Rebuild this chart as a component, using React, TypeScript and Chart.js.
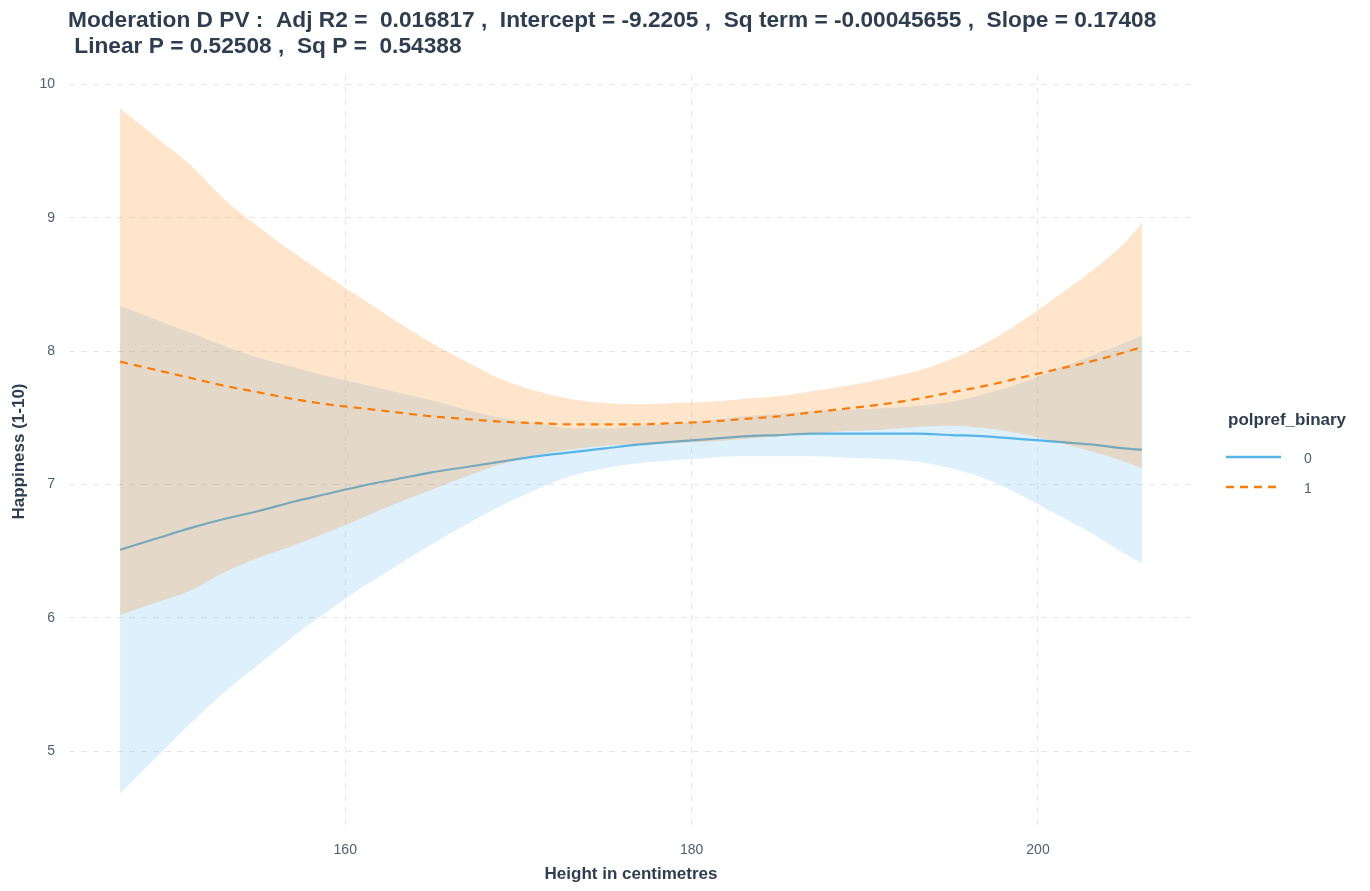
import React, { useEffect, useRef } from 'react';
import { Chart, registerables } from 'chart.js';

Chart.register(...registerables);

// ---- Data ----
const heights = [147, 149, 151, 153, 155, 157, 159, 161, 163, 165, 167, 169, 171, 173, 175, 177, 179, 181, 183, 185, 187, 189, 191, 193, 195, 197, 199, 201, 203, 205, 206];

// group 0 (solid blue)
const fit0 = [6.51, 6.59, 6.67, 6.74, 6.80, 6.87, 6.93, 6.99, 7.04, 7.09, 7.13, 7.17, 7.21, 7.24, 7.27, 7.30, 7.32, 7.34, 7.36, 7.37, 7.38, 7.38, 7.38, 7.38, 7.37, 7.36, 7.34, 7.32, 7.30, 7.27, 7.26];
const low0 = [4.68, 4.94, 5.20, 5.44, 5.65, 5.86, 6.05, 6.23, 6.39, 6.55, 6.70, 6.84, 6.96, 7.06, 7.12, 7.16, 7.18, 7.20, 7.21, 7.21, 7.21, 7.20, 7.19, 7.17, 7.12, 7.04, 6.92, 6.78, 6.64, 6.48, 6.41];
const high0 = [8.34, 8.24, 8.14, 8.04, 7.95, 7.88, 7.81, 7.75, 7.69, 7.63, 7.56, 7.50, 7.46, 7.42, 7.42, 7.44, 7.46, 7.48, 7.51, 7.53, 7.55, 7.56, 7.57, 7.59, 7.62, 7.68, 7.76, 7.86, 7.96, 8.06, 8.12];

// group 1 (dashed orange)
const fit1 = [7.92, 7.86, 7.80, 7.74, 7.69, 7.64, 7.60, 7.57, 7.54, 7.51, 7.49, 7.47, 7.46, 7.45, 7.45, 7.45, 7.46, 7.47, 7.49, 7.51, 7.54, 7.57, 7.60, 7.64, 7.69, 7.74, 7.80, 7.86, 7.92, 7.99, 8.03];
const low1 = [6.02, 6.11, 6.20, 6.34, 6.45, 6.54, 6.64, 6.75, 6.86, 6.96, 7.06, 7.15, 7.22, 7.26, 7.29, 7.30, 7.31, 7.32, 7.34, 7.36, 7.38, 7.40, 7.41, 7.43, 7.44, 7.42, 7.38, 7.32, 7.25, 7.17, 7.12];
const high1 = [9.82, 9.61, 9.40, 9.14, 8.93, 8.74, 8.56, 8.39, 8.22, 8.06, 7.92, 7.79, 7.70, 7.64, 7.61, 7.60, 7.61, 7.62, 7.64, 7.66, 7.70, 7.74, 7.79, 7.85, 7.94, 8.06, 8.22, 8.40, 8.59, 8.81, 8.96];

const xTicks = [160, 180, 200];
const yTicks = [5, 6, 7, 8, 9, 10];
const groupLabels = ['0', '1'];

const titleLines = [
  'Moderation D PV :  Adj R2 =  0.016817 ,  Intercept = -9.2205 ,  Sq term = -0.00045655 ,  Slope = 0.17408',
  ' Linear P = 0.52508 ,  Sq P =  0.54388',
];
const xTitle = 'Height in centimetres';
const yTitle = 'Happiness (1-10)';
const legendTitle = 'polpref_binary';

// ---- Styles ----
const BLUE = '#56B4E9';
const BLUE_FILL = 'rgba(86,180,233,0.2)';
const ORANGE = '#FA7D0A';
const ORANGE_FILL = 'rgba(255,127,0,0.2)';
const TEXT_DARK = '#2E3D4F';
const TEXT_TICK = '#4F5E70';
const GRID = '#E6E6E6';
const FONT = '"Liberation Sans", Arial, Helvetica, sans-serif';

const pts = (ys: number[]) => heights.map((x, i) => ({ x, y: ys[i] }));

const textPlugin = {
  id: 'customTexts',
  afterDraw(chart: any) {
    const ctx = chart.ctx as CanvasRenderingContext2D;
    const ca = chart.chartArea;
    ctx.save();
    // Title
    ctx.fillStyle = TEXT_DARK;
    ctx.textAlign = 'left';
    ctx.textBaseline = 'middle';
    ctx.font = `bold 22.7px ${FONT}`;
    ctx.fillText(titleLines[0], 60, 13);
    ctx.fillText(titleLines[1], 60, 39);

    // Axis titles
    ctx.font = `bold 17px ${FONT}`;
    ctx.textAlign = 'center';
    ctx.fillText(xTitle, (ca.left + ca.right) / 2, 866);
    ctx.save();
    ctx.translate(11, (ca.top + ca.bottom) / 2);
    ctx.rotate(-Math.PI / 2);
    ctx.fillText(yTitle, 0, 0);
    ctx.restore();

    // Legend
    ctx.textAlign = 'left';
    ctx.font = `bold 17px ${FONT}`;
    ctx.fillText(legendTitle, 1220, 412);
    const rows = [
      { y: 449, color: BLUE, dash: [] as number[] },
      { y: 479, color: ORANGE, dash: [8, 6] },
    ];
    rows.forEach((r, i) => {
      ctx.beginPath();
      ctx.setLineDash(r.dash);
      ctx.strokeStyle = r.color;
      ctx.lineWidth = 2.4;
      ctx.moveTo(1218, r.y);
      ctx.lineTo(1273, r.y);
      ctx.stroke();
      ctx.setLineDash([]);
      ctx.font = `14px ${FONT}`;
      ctx.fillStyle = TEXT_TICK;
      ctx.textAlign = 'center';
      ctx.fillText(groupLabels[i], 1300, r.y + 2);
      ctx.fillStyle = TEXT_DARK;
      ctx.textAlign = 'left';
    });
    ctx.restore();
  },
};

export default function App() {
  const ref = useRef<HTMLCanvasElement | null>(null);

  useEffect(() => {
    if (!ref.current) return;
    const chart = new Chart(ref.current, {
      type: 'line',
      data: {
        datasets: [
          { label: 'low0', data: pts(low0), borderColor: 'transparent', borderWidth: 0, pointRadius: 0, fill: false, order: 6 },
          { label: 'high0', data: pts(high0), borderColor: 'transparent', borderWidth: 0, pointRadius: 0, fill: '-1', backgroundColor: BLUE_FILL, order: 5 },
          { label: groupLabels[0], data: pts(fit0), borderColor: BLUE, borderWidth: 2.2, pointRadius: 0, fill: false, order: 4 },
          { label: 'low1', data: pts(low1), borderColor: 'transparent', borderWidth: 0, pointRadius: 0, fill: false, order: 3 },
          { label: 'high1', data: pts(high1), borderColor: 'transparent', borderWidth: 0, pointRadius: 0, fill: '-1', backgroundColor: ORANGE_FILL, order: 2 },
          { label: groupLabels[1], data: pts(fit1), borderColor: ORANGE, borderWidth: 2.2, borderDash: [8, 6], pointRadius: 0, fill: false, order: 1 },
        ],
      },
      options: {
        animation: false,
        responsive: true,
        maintainAspectRatio: false,
        events: [],
        layout: { padding: { top: 67, right: 169, left: 0, bottom: 0 } },
        elements: { line: { cubicInterpolationMode: 'monotone' } },
        plugins: {
          legend: { display: false },
          title: { display: false },
          tooltip: { enabled: false },
          filler: { drawTime: 'beforeDatasetDraw' },
        } as any,
        scales: {
          x: {
            type: 'linear',
            min: 144.05,
            max: 208.95,
            afterBuildTicks: (s: any) => { s.ticks = xTicks.map((v) => ({ value: v })); },
            afterFit: (s: any) => { s.height = 55; },
            grid: { color: GRID, lineWidth: 1, drawTicks: false },
            border: { display: false, dash: [6, 6] },
            ticks: { color: TEXT_TICK, font: { family: FONT, size: 14 }, padding: 14, maxRotation: 0 },
          },
          y: {
            type: 'linear',
            min: 4.423,
            max: 10.07,
            afterBuildTicks: (s: any) => { s.ticks = yTicks.map((v) => ({ value: v })); },
            afterFit: (s: any) => { s.width = 61; },
            grid: { color: GRID, lineWidth: 1, drawTicks: false },
            border: { display: false, dash: [6, 6] },
            ticks: { color: TEXT_TICK, font: { family: FONT, size: 14 }, padding: 14 },
          },
        },
      },
      plugins: [textPlugin],
    });
    return () => chart.destroy();
  }, []);

  return (
    <div style={{ position: 'relative', width: '1354px', height: '875px' }}>
      <canvas ref={ref} />
    </div>
  );
}
